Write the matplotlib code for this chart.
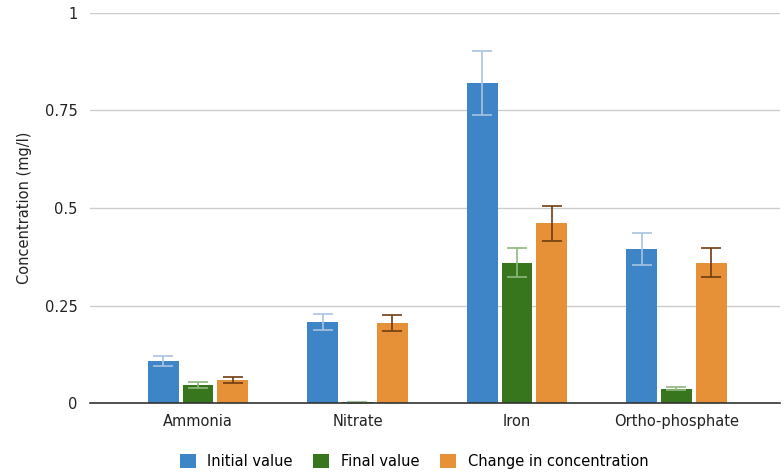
import matplotlib.pyplot as plt
import numpy as np

# data
categories = ["Ammonia", "Nitrate", "Iron", "Ortho-phosphate"]
series_names = ["Initial value", "Final value", "Change in concentration"]
initial = [0.108, 0.208, 0.820, 0.395]
initial_err = [0.012, 0.021, 0.082, 0.040]
final = [0.046, 0.002, 0.360, 0.037]
final_err = [0.008, 0.001, 0.037, 0.003]
change = [0.059, 0.205, 0.461, 0.360]
change_err = [0.007, 0.020, 0.045, 0.037]

bar_colors = ["#3d85c6", "#38761d", "#e69138"]
err_colors = ["#a9c4e0", "#8fb87e", "#6e3d10"]

fig = plt.figure(figsize=(7.84, 4.73), dpi=100)
ax = fig.add_axes([90 / 784, 70 / 473, 690 / 784, 390 / 473])

x = np.arange(len(categories))
pitch = 0.219
width = 0.194
values = [initial, final, change]
errors = [initial_err, final_err, change_err]
for i, (vals, errs) in enumerate(zip(values, errors)):
    ax.bar(x + (i - 1) * pitch, vals, width, color=bar_colors[i],
           label=series_names[i], zorder=3)
    ax.errorbar(x + (i - 1) * pitch, vals, yerr=errs, fmt="none",
                ecolor=err_colors[i], elinewidth=1.2, capsize=7.5,
                capthick=1.2, zorder=4)

ax.set_xlim(-0.677, 3.649)
ax.set_ylim(0, 1)
ax.set_yticks([0, 0.25, 0.5, 0.75, 1])
ax.set_yticklabels(["0", "0.25", "0.5", "0.75", "1"])
ax.set_xticks(x)
ax.set_xticklabels(categories)
ax.tick_params(axis="both", length=0, labelsize=10.5, colors="#222222")
ax.tick_params(axis="y", pad=9)
ax.tick_params(axis="x", pad=8)
ax.grid(axis="y", color="#cccccc", linewidth=1, zorder=0)
for side in ["top", "right", "left"]:
    ax.spines[side].set_visible(False)
ax.spines["bottom"].set_color("#333333")
ax.spines["bottom"].set_linewidth(1.2)
ax.spines["bottom"].set_zorder(5)
ax.set_ylabel("Concentration (mg/l)", fontsize=10.5, color="#222222", labelpad=9)

ax.legend(loc="center", bbox_to_anchor=(414 / 784, 12 / 473),
          bbox_transform=fig.transFigure, ncol=3, frameon=False,
          fontsize=10.5, handlelength=1.1, handleheight=1.1,
          columnspacing=1.4, handletextpad=0.8)

fig.savefig("out.png", dpi=100)
